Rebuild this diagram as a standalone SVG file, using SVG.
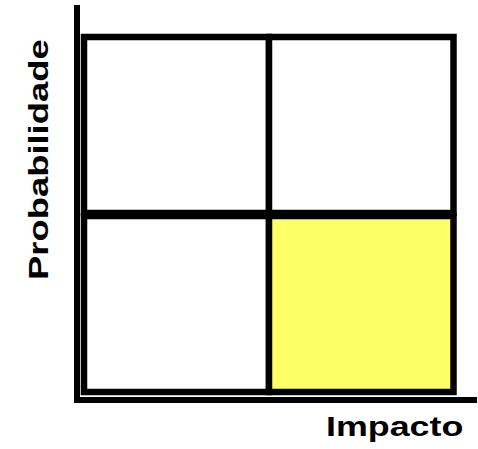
<svg xmlns="http://www.w3.org/2000/svg" width="478" height="449" viewBox="0 0 478 449">
<style>
.cell{stroke:#000;stroke-width:6.5;fill:#fff}
.hot{fill:#ffff66}
.axis{stroke:#000;stroke-width:6;fill:none}
.lbl{font-family:"Liberation Sans",Arial,sans-serif;font-weight:bold;fill:#000;font-size:28px}
</style>
<rect width="478" height="449" fill="#fff"/>
<g id="cell-high-prob-low-impact"><rect class="cell" x="84" y="37" width="185" height="176"/></g>
<g id="cell-high-prob-high-impact"><rect class="cell" x="269" y="37" width="184.5" height="176"/></g>
<g id="cell-low-prob-low-impact"><rect class="cell" x="84" y="216" width="185" height="176"/></g>
<g id="cell-low-prob-high-impact"><rect class="cell hot" x="269" y="216" width="184.5" height="176"/></g>
<g id="connectors">
<line class="axis" x1="77" y1="5" x2="77" y2="403"/>
<line class="axis" x1="74" y1="400" x2="477" y2="400"/>
</g>
<g id="labels">
<text class="lbl" transform="translate(326,435.5) scale(1.28,1)">Impacto</text>
<text class="lbl" transform="translate(48,280) rotate(-90) scale(1.3,1)">Probabilidade</text>
</g>
</svg>
